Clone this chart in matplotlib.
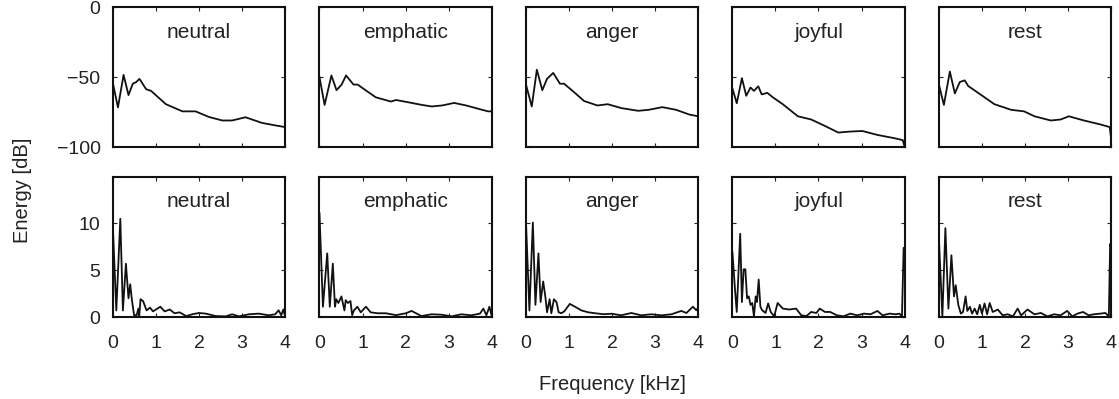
import matplotlib
matplotlib.use("Agg")
import matplotlib.pyplot as plt

plt.rcParams['font.family'] = ['Liberation Sans', 'DejaVu Sans']

emotions = ["neutral", "emphatic", "anger", "joyful", "rest"]
xticks = [0, 1, 2, 3, 4]

# top row: spectral energy in dB (frequency in kHz, value in dB)
neutral_db_f = [0.0, 0.115, 0.246, 0.36, 0.46, 0.54, 0.615, 0.77, 0.885, 1.23, 1.615,
                1.92, 2.23, 2.54, 2.77, 3.08, 3.46, 3.77, 4.0]
neutral_db = [-54.7, -71.6, -48.4, -62.8, -54.7, -53.5, -51.2, -58.6, -59.8, -69.3, -74.4,
              -74.4, -78.4, -80.9, -80.9, -78.6, -82.6, -84.4, -85.6]

emphatic_db_f = [0.0, 0.119, 0.277, 0.396, 0.515, 0.618, 0.79, 0.887, 1.07, 1.31, 1.66,
                 1.78, 2.06, 2.38, 2.61, 2.85, 3.13, 3.41, 3.72, 3.92, 4.0]
emphatic_db = [-50.0, -69.8, -48.8, -59.3, -55.3, -48.8, -55.3, -55.3, -59.3, -64.4, -67.4,
               -66.3, -67.9, -69.8, -70.9, -70.2, -68.4, -70.2, -72.8, -74.4, -74.4]

anger_db_f = [0.0, 0.135, 0.253, 0.38, 0.49, 0.634, 0.79, 0.887, 1.11, 1.35, 1.66,
              1.90, 2.22, 2.61, 2.85, 3.17, 3.49, 3.80, 4.0]
anger_db = [-55.3, -70.9, -44.7, -59.3, -51.2, -47.0, -54.7, -54.7, -60.5, -67.0, -70.2,
            -69.3, -72.1, -74.0, -73.3, -71.4, -73.3, -76.7, -77.9]

joyful_db_f = [0.0, 0.10, 0.22, 0.32, 0.42, 0.50, 0.60, 0.68, 0.81, 0.94, 1.17, 1.52,
               1.83, 2.11, 2.46, 2.74, 3.02, 3.37, 3.76, 3.96, 4.0]
joyful_db = [-58.1, -68.6, -50.7, -63.3, -57.4, -59.8, -56.5, -62.3, -61.2, -64.4, -69.3,
             -77.9, -80.2, -84.2, -89.5, -88.8, -88.4, -91.2, -93.5, -94.9, -99.5]

rest_db_f = [0.0, 0.115, 0.254, 0.37, 0.485, 0.6, 0.68, 0.91, 1.29, 1.68, 1.98, 2.22,
             2.6, 2.83, 3.02, 3.37, 3.75, 3.97, 4.0]
rest_db = [-55.3, -69.8, -46.0, -61.6, -53.5, -52.3, -56.3, -61.2, -69.3, -73.3, -74.4,
           -77.9, -80.9, -80.2, -77.9, -80.9, -83.7, -85.6, -93.0]

# bottom row: linear energy
neutral_lin_f = [0.0, 0.077, 0.17, 0.23, 0.30, 0.36, 0.40, 0.44, 0.49, 0.55, 0.59, 0.61,
                 0.64, 0.70, 0.78, 0.86, 0.93, 1.10, 1.20, 1.32, 1.43, 1.55, 1.70, 1.85,
                 2.0, 2.16, 2.39, 2.62, 2.77, 2.93, 3.16, 3.39, 3.62, 3.77, 3.85, 3.91,
                 3.96, 4.0]
neutral_lin = [9.3, 0.7, 10.5, 0.7, 5.7, 2.0, 3.5, 1.8, 0.2, 0.2, 0.9, 0.1,
               1.9, 1.7, 0.7, 1.0, 0.6, 1.1, 0.6, 0.8, 0.4, 0.5, 0.1, 0.3,
               0.43, 0.36, 0.1, 0.07, 0.29, 0.07, 0.29, 0.36, 0.18, 0.29, 0.72, 0.18,
               0.8, 0.07]

emphatic_lin_f = [0.0, 0.08, 0.18, 0.24, 0.31, 0.36, 0.39, 0.44, 0.51, 0.58, 0.61, 0.66,
                  0.72, 0.76, 0.80, 0.88, 0.96, 1.08, 1.19, 1.35, 1.54, 1.78, 2.01,
                  2.14, 2.37, 2.60, 2.83, 3.07, 3.30, 3.53, 3.73, 3.81, 3.88, 3.95, 4.0]
emphatic_lin = [11.1, 1.1, 6.8, 1.1, 5.7, 1.1, 1.9, 1.5, 2.2, 0.7, 1.8, 1.5,
                1.7, 0.2, 0.7, 1.1, 0.5, 1.1, 0.5, 0.4, 0.4, 0.2, 0.4,
                0.65, 0.1, 0.29, 0.25, 0.07, 0.29, 0.18, 0.36, 0.9, 0.18, 1.1, 0.18]

anger_lin_f = [0.0, 0.08, 0.16, 0.22, 0.29, 0.34, 0.40, 0.45, 0.49, 0.55, 0.59, 0.65,
               0.71, 0.76, 0.82, 0.89, 1.02, 1.14, 1.29, 1.45, 1.61, 1.80, 2.0,
               2.21, 2.45, 2.68, 2.91, 3.15, 3.38, 3.61, 3.73, 3.88, 3.96, 4.0]
anger_lin = [10.2, 0.7, 10.1, 1.3, 6.8, 1.6, 3.8, 2.2, 0.5, 1.9, 0.4, 1.9,
             1.6, 0.5, 0.4, 0.6, 1.4, 1.1, 0.7, 0.5, 0.4, 0.3, 0.35,
             0.18, 0.43, 0.18, 0.29, 0.18, 0.29, 0.65, 0.43, 1.1, 0.72, 1.0]

joyful_lin_f = [0.0, 0.06, 0.10, 0.18, 0.22, 0.26, 0.30, 0.34, 0.38, 0.42, 0.46, 0.50,
                0.54, 0.57, 0.61, 0.65, 0.69, 0.77, 0.83, 0.89, 0.97, 1.05, 1.17, 1.32,
                1.48, 1.60, 1.72, 1.83, 1.95, 2.03, 2.15, 2.27, 2.43, 2.58, 2.74, 2.90,
                3.06, 3.21, 3.37, 3.49, 3.65, 3.80, 3.88, 3.94, 3.98, 4.0]
joyful_lin = [6.9, 2.9, 0.54, 8.9, 1.6, 5.1, 5.1, 2.0, 2.2, 1.3, 1.5, 0.07,
              2.2, 1.6, 4.0, 1.1, 0.72, 0.43, 1.45, 0.54, 0.07, 1.5, 0.9, 0.8,
              0.9, 0.18, 0.1, 0.54, 0.43, 0.9, 0.54, 0.54, 0.18, 0.07, 0.36, 0.18,
              0.36, 0.29, 0.65, 0.18, 0.36, 0.29, 0.36, 0.07, 7.4, 7.2]

rest_lin_f = [0.0, 0.08, 0.15, 0.22, 0.29, 0.35, 0.39, 0.45, 0.51, 0.56, 0.62, 0.66,
              0.72, 0.77, 0.83, 0.89, 0.95, 1.0, 1.06, 1.12, 1.18, 1.25, 1.37, 1.48,
              1.6, 1.72, 1.83, 1.91, 2.06, 2.22, 2.37, 2.52, 2.68, 2.83, 2.98, 3.1,
              3.22, 3.35, 3.48, 3.6, 3.75, 3.87, 3.95, 3.98, 4.0]
rest_lin = [8.3, 0.07, 9.5, 0.9, 6.6, 2.2, 3.4, 1.3, 0.36, 0.54, 2.2, 0.65,
            1.1, 0.36, 0.9, 0.29, 1.3, 0.36, 1.45, 0.29, 1.5, 0.54, 0.8, 0.18,
            0.29, 0.07, 0.9, 0.18, 0.8, 0.29, 0.43, 0.07, 0.29, 0.18, 0.65, 0.07,
            0.36, 0.54, 0.18, 0.29, 0.36, 0.43, 0.07, 7.8, 7.4]

top_f = [neutral_db_f, emphatic_db_f, anger_db_f, joyful_db_f, rest_db_f]
top_v = [neutral_db, emphatic_db, anger_db, joyful_db, rest_db]
bot_f = [neutral_lin_f, emphatic_lin_f, anger_lin_f, joyful_lin_f, rest_lin_f]
bot_v = [neutral_lin, emphatic_lin, anger_lin, joyful_lin, rest_lin]

txt = '#222222'
fig, axes = plt.subplots(2, 5, figsize=(11.19, 3.99), dpi=100)
fig.subplots_adjust(left=113/1119, right=1111/1119, top=1-7/399, bottom=1-317/399,
                    wspace=0.2, hspace=0.21)

for i in range(5):
    for r in range(2):
        ax = axes[r, i]
        if r == 0:
            ax.plot(top_f[i], top_v[i], color='#111111', lw=1.3)
            ax.set_ylim(-100, 0)
            ax.set_yticks([-100, -50, 0])
        else:
            ax.plot(bot_f[i], bot_v[i], color='#111111', lw=1.3)
            ax.set_ylim(0, 15)
            ax.set_yticks([0, 5, 10])
        ax.set_xlim(0, 4)
        ax.set_xticks(xticks)
        ax.tick_params(direction='in', length=3, width=0.8, top=True, right=True,
                       labelsize=14, colors=txt)
        ax.tick_params(axis='x', pad=13)
        ax.tick_params(axis='y', pad=9)
        for s in ax.spines.values():
            s.set_linewidth(1.5)
            s.set_color('#111111')
        if r == 0:
            ax.set_xticklabels([])
        if i > 0:
            ax.set_yticklabels([])
        ax.text(0.5, 0.82, emotions[i], transform=ax.transAxes, ha='center',
                va='center', fontsize=15, color=txt)

fig.text(0.02, 1-190/399, "Energy [dB]", rotation=90, ha='center', va='center',
         fontsize=14.5, color=txt)
fig.text(612/1119, 1-385/399, "Frequency [kHz]", ha='center', va='center',
         fontsize=14.5, color=txt)

fig.savefig("out.png", dpi=100)
